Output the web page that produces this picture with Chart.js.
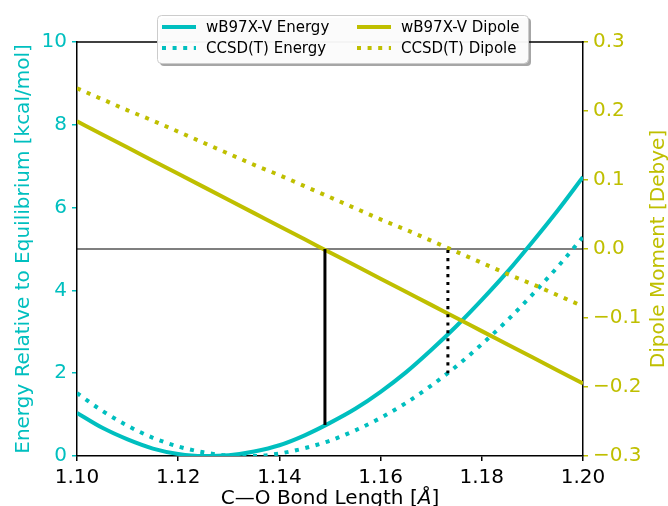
<!DOCTYPE html>
<html>
<head>
<meta charset="utf-8">
<script src="https://cdn.jsdelivr.net/npm/chart.js@4.4.1/dist/chart.umd.min.js"></script>
<style>
  html, body { margin: 0; padding: 0; background: #fff; }
  #wrap { width: 668px; height: 506px; }
</style>
</head>
<body>
<div id="wrap"><canvas id="chart" width="668" height="506"></canvas></div>
<script>
// --- data ---
const bondLength = [1.100, 1.105, 1.110, 1.115, 1.120, 1.125, 1.130, 1.135, 1.140, 1.145, 1.150,
                    1.155, 1.160, 1.165, 1.170, 1.175, 1.180, 1.185, 1.190, 1.195, 1.200];
const energyWb = [1.04, 0.68, 0.40, 0.18, 0.05, 0.00, 0.02, 0.11, 0.26, 0.50, 0.80,
                  1.14, 1.55, 2.02, 2.56, 3.14, 3.77, 4.44, 5.17, 5.93, 6.74];
const energyCc = [1.52, 1.09, 0.73, 0.44, 0.23, 0.09, 0.01, 0.00, 0.06, 0.19, 0.37,
                  0.62, 0.92, 1.28, 1.70, 2.17, 2.70, 3.27, 3.90, 4.57, 5.29];
const dipoleWb = [0.185, 0.166, 0.147, 0.128, 0.109, 0.090, 0.071, 0.052, 0.033, 0.014, -0.005,
                  -0.024, -0.043, -0.062, -0.081, -0.100, -0.119, -0.138, -0.157, -0.176, -0.195];
const dipoleCc = [0.233, 0.217, 0.201, 0.186, 0.170, 0.154, 0.138, 0.122, 0.107, 0.091, 0.075,
                  0.059, 0.043, 0.028, 0.012, -0.004, -0.020, -0.036, -0.051, -0.067, -0.083];

// zero-dipole bond lengths and the energy spans of the marker lines
const zeroWbX = [1.149, 1.149];
const zeroWbE = [0.75, 5];
const zeroCcX = [1.1733, 1.1733];
const zeroCcE = [2.0, 5];
const zeroLineX = [1.10, 1.20];
const zeroLineE = [5, 5];

const xTicks = [1.10, 1.12, 1.14, 1.16, 1.18, 1.20];
const energyTicks = [0, 2, 4, 6, 8, 10];
const dipoleTicks = [-0.3, -0.2, -0.1, 0.0, 0.1, 0.2, 0.3];

const CYAN = '#00bfbf';
const OLIVE = '#bfbf00';
const FONT = "'DejaVu Sans', sans-serif";

const pts = (xs, ys) => xs.map((x, i) => ({ x: x, y: ys[i] }));

// --- frame, titles and legend drawn on the canvas ---
const extras = {
    id: 'extras',
    afterDraw(chart) {
        const ctx = chart.ctx;
        const a = chart.chartArea;
        ctx.save();

        // top spine
        ctx.strokeStyle = '#000';
        ctx.lineWidth = 1.5;
        ctx.beginPath();
        ctx.moveTo(a.left - 0.75, a.top);
        ctx.lineTo(a.right + 0.75, a.top);
        ctx.stroke();

        // right title, reading bottom to top like the left one
        ctx.save();
        ctx.translate(659, (a.top + a.bottom) / 2);
        ctx.rotate(-Math.PI / 2);
        ctx.font = '20px ' + FONT;
        ctx.fillStyle = OLIVE;
        ctx.textAlign = 'center';
        ctx.textBaseline = 'middle';
        ctx.fillText('Dipole Moment [Debye]', 0, 0);
        ctx.restore();

        // x title with italic Angstrom
        ctx.fillStyle = '#000';
        ctx.textBaseline = 'middle';
        const p1 = 'C\u2014O Bond Length [', p2 = '\u00c5', p3 = ']';
        ctx.font = '20px ' + FONT;
        const w1 = ctx.measureText(p1).width, w3 = ctx.measureText(p3).width;
        ctx.font = 'italic 20px ' + FONT;
        const w2 = ctx.measureText(p2).width;
        let tx = (a.left + a.right) / 2 - (w1 + w2 + w3) / 2;
        const ty = 499;
        ctx.textAlign = 'left';
        ctx.font = '20px ' + FONT;
        ctx.fillText(p1, tx, ty);
        ctx.font = 'italic 20px ' + FONT;
        ctx.fillText(p2, tx + w1, ty);
        ctx.font = '20px ' + FONT;
        ctx.fillText(p3, tx + w1 + w2, ty);

        // legend box
        const bx = 157, by = 15, bw = 371, bh = 48, r = 4;
        const rr = (x, y) => {
            ctx.beginPath();
            ctx.roundRect(x, y, bw, bh, r);
        };
        ctx.fillStyle = 'rgba(0,0,0,0.35)';
        rr(bx + 3, by + 3);
        ctx.fill();
        ctx.fillStyle = 'rgba(255,255,255,0.95)';
        rr(bx, by);
        ctx.fill();
        ctx.strokeStyle = '#cccccc';
        ctx.lineWidth = 1;
        rr(bx + 0.5, by + 0.5);
        ctx.stroke();

        const ds = chart.data.datasets;
        const slots = [
            { i: 0, x: 162, y: 27 }, { i: 2, x: 357, y: 27 },
            { i: 1, x: 162, y: 48 }, { i: 3, x: 357, y: 48 }
        ];
        ctx.font = '15px ' + FONT;
        ctx.textBaseline = 'middle';
        slots.forEach(s => {
            const d = ds[s.i];
            ctx.strokeStyle = d.borderColor;
            ctx.lineWidth = d.borderWidth;
            ctx.setLineDash(d.borderDash || []);
            ctx.lineCap = 'butt';
            ctx.beginPath();
            ctx.moveTo(s.x, s.y);
            ctx.lineTo(s.x + 34, s.y);
            ctx.stroke();
            ctx.setLineDash([]);
            ctx.fillStyle = '#000';
            ctx.fillText(d.label, s.x + 44, s.y + 1);
        });
        ctx.restore();
    }
};

const ctx = document.getElementById('chart');
new Chart(ctx, {
    type: 'line',
    data: {
        datasets: [
            { label: 'wB97X-V Energy', data: pts(bondLength, energyWb), yAxisID: 'y',
              borderColor: CYAN, borderWidth: 4, order: 5 },
            { label: 'CCSD(T) Energy', data: pts(bondLength, energyCc), yAxisID: 'y',
              borderColor: CYAN, borderWidth: 4, borderDash: [4, 6.6], order: 6 },
            { label: 'wB97X-V Dipole', data: pts(bondLength, dipoleWb), yAxisID: 'y2',
              borderColor: OLIVE, borderWidth: 4, order: 3 },
            { label: 'CCSD(T) Dipole', data: pts(bondLength, dipoleCc), yAxisID: 'y2',
              borderColor: OLIVE, borderWidth: 4, borderDash: [4, 6.6], order: 4 },
            { label: 'zero line', data: pts(zeroLineX, zeroLineE), yAxisID: 'y',
              borderColor: '#000', borderWidth: 1.2, tension: 0, order: 7 },
            { label: 'wB97X-V zero', data: pts(zeroWbX, zeroWbE), yAxisID: 'y',
              borderColor: '#000', borderWidth: 3, tension: 0, order: 1 },
            { label: 'CCSD(T) zero', data: pts(zeroCcX, zeroCcE), yAxisID: 'y',
              borderColor: '#000', borderWidth: 3, borderDash: [3, 5], tension: 0, order: 2 }
        ]
    },
    options: {
        responsive: false,
        animation: false,
        devicePixelRatio: 1,
        layout: { padding: { top: 42, left: 0, right: 0, bottom: 0 } },
        plugins: { legend: { display: false }, tooltip: { enabled: false } },
        elements: {
            point: { radius: 0 },
            line: { cubicInterpolationMode: 'monotone', borderCapStyle: 'butt', fill: false }
        },
        scales: {
            x: {
                type: 'linear', min: 1.10, max: 1.20,
                afterFit: s => { s.height = 50; },
                afterBuildTicks: s => { s.ticks = xTicks.map(v => ({ value: v })); },
                ticks: { callback: v => v.toFixed(2), color: '#000', font: { family: FONT, size: 20 },
                         padding: 5, maxRotation: 0, autoSkip: false },
                grid: { drawOnChartArea: false, tickLength: 5, color: '#000', lineWidth: 1.5 },
                border: { color: '#000', width: 1.5 }
            },
            y: {
                type: 'linear', position: 'left', min: 0, max: 10,
                afterFit: s => { s.width = 77; },
                afterBuildTicks: s => { s.ticks = energyTicks.map(v => ({ value: v })); },
                ticks: { callback: v => String(v), color: CYAN, font: { family: FONT, size: 20 }, padding: 5 },
                grid: { drawOnChartArea: false, tickLength: 5, color: CYAN, lineWidth: 1.5 },
                border: { color: '#000', width: 1.5 },
                title: { display: true, text: 'Energy Relative to Equilibrium [kcal/mol]', color: CYAN,
                         font: { family: FONT, size: 20 }, padding: { top: 12, bottom: 0 } }
            },
            y2: {
                type: 'linear', position: 'right', min: -0.3, max: 0.3,
                afterFit: s => { s.width = 85; },
                afterBuildTicks: s => { s.ticks = dipoleTicks.map(v => ({ value: v })); },
                ticks: {
                    callback: v => Math.abs(v) < 1e-9 ? '0.0' : v.toFixed(1).replace('-', '\u2212'),
                    color: OLIVE, font: { family: FONT, size: 20 }, padding: 5
                },
                grid: { drawOnChartArea: false, tickLength: 5, color: OLIVE, lineWidth: 1.5 },
                border: { color: '#000', width: 1.5 }
            }
        }
    },
    plugins: [extras]
});
</script>
</body>
</html>
